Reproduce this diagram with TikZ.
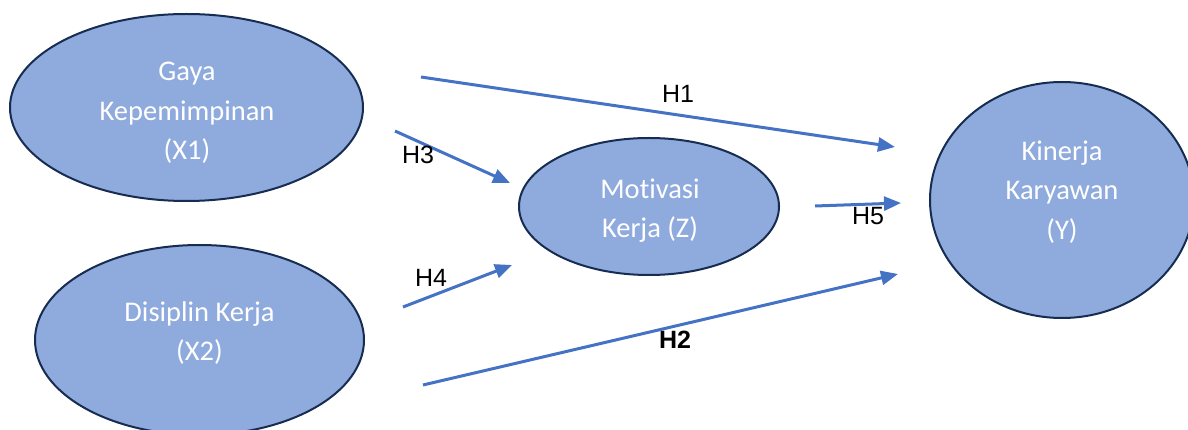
\documentclass[tikz,border=0pt]{standalone}
\usepackage{fontspec}
\setmainfont{Liberation Sans}
\newfontfamily\carlito[Ligatures=NoCommon]{Carlito}
\usetikzlibrary{shapes.geometric,arrows.meta}
\definecolor{ellfill}{HTML}{8FAADC}
\definecolor{elldraw}{HTML}{172C51}
\definecolor{arrblue}{HTML}{4472C4}
\tikzset{
  varell/.style={ellipse, draw=elldraw, line width=2pt, fill=ellfill, inner sep=0pt},
  vartext/.style={text=white, align=center, inner sep=0pt,
    font=\carlito\fontsize{28.5}{39.5}\selectfont},
  hyp/.style={draw=arrblue, line width=3pt, -{Triangle[length=17pt,width=14pt]}},
  hlabel/.style={inner sep=0pt, text=black, font=\fontsize{25}{28}\selectfont}
}
\begin{document}
\begin{tikzpicture}[x=1pt,y=-1pt]
\useasboundingbox (0,0) rectangle (1188,430);
% ellipses
\node[varell, minimum width=353pt, minimum height=187pt] (x1) at (186.5,107.5) {};
\node[varell, minimum width=329pt, minimum height=190pt] (x2) at (199.5,340) {};
\node[varell, minimum width=260pt, minimum height=137pt] (z) at (649,206.5) {};
\node[varell, minimum width=264pt, minimum height=236pt] (y) at (1062,200) {};
% texts
\node[vartext] (x1t) at (187,113) {Gaya\\Kepemimpinan\\(X1)};
\node[vartext] (x2t) at (199.5,333) {Disiplin Kerja\\(X2)};
\node[vartext] (zt) at (650,210.5) {Motivasi\\Kerja (Z)};
\node[vartext] (yt) at (1062,192) {Kinerja\\Karyawan\\(Y)};
% arrow ends
\coordinate (h1s) at (421,77);  \coordinate (h1e) at (895,147);
\coordinate (h3s) at (395,131); \coordinate (h3e) at (510,183);
\coordinate (h4s) at (403,307); \coordinate (h4e) at (512,265);
\coordinate (h5s) at (815,206); \coordinate (h5e) at (901,203);
\coordinate (h2s) at (423,385); \coordinate (h2e) at (898,274);
\draw[hyp] (h1s) -- (h1e);
\draw[hyp] (h3s) -- (h3e);
\draw[hyp] (h4s) -- (h4e);
\draw[hyp] (h5s) -- (h5e);
% labels
\node[hlabel] (lh1) at (678,94) {H1};
\node[hlabel] (lh3) at (418,155) {H3};
\node[hlabel] (lh4) at (431,278) {H4};
\node[hlabel] (lh5) at (868,216.5) {H5};
\node[hlabel, font=\bfseries\fontsize{25}{28}\selectfont] (lh2) at (675,340) {H2};
\draw[hyp] (h2s) -- (h2e);
\end{tikzpicture}
\end{document}
